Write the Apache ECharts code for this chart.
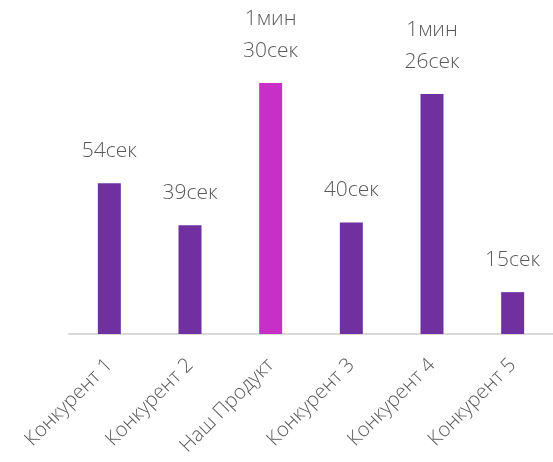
<!DOCTYPE html>
<html>
<head>
<meta charset="utf-8">
<script src="https://cdn.jsdelivr.net/npm/echarts@6/dist/echarts.min.js"></script>
<style>
  html, body { margin: 0; padding: 0; background: #fff; }
  #chart { width: 553px; height: 462px; }
</style>
</head>
<body>
<div id="chart"></div>
<script>
// категории и время (в секундах)
const categories = ['Конкурент 1', 'Конкурент 2', 'Наш Продукт', 'Конкурент 3', 'Конкурент 4', 'Конкурент 5'];
const seconds = [54, 39, 90, 40, 86, 15];
const highlighted = 'Наш Продукт';

const chart = echarts.init(document.getElementById('chart'));

// 90 -> "1мин\n30сек"
const fmtTime = (v) => {
  const m = Math.floor(v / 60);
  const s = v % 60;
  return m > 0 ? m + 'мин\n' + s + 'сек' : s + 'сек';
};

const option = {
  backgroundColor: '#ffffff',
  animation: false,
  textStyle: { fontFamily: 'Open Sans' },
  grid: { left: 69, right: -8, top: 55, bottom: 128 },
  xAxis: {
    type: 'category',
    data: categories,
    axisLine: { lineStyle: { color: '#d9d9d9', width: 2 } },
    axisTick: { show: false },
    axisLabel: {
      interval: 0,
      rotate: 45,
      margin: 28,
      fontSize: 20,
      fontWeight: 300,
      color: '#595959',
      fontFamily: 'Open Sans'
    }
  },
  yAxis: {
    type: 'value',
    min: 0,
    max: 100,
    show: false,
    splitLine: { show: false }
  },
  series: [{
    type: 'bar',
    data: seconds,
    barWidth: 23,
    itemStyle: {
      color: (p) => p.name === highlighted ? '#c72fc7' : '#7030a0'
    },
    label: {
      show: true,
      position: 'top',
      distance: 16,
      formatter: (p) => fmtTime(p.value),
      fontSize: 21,
      fontWeight: 300,
      lineHeight: 32,
      color: '#595959',
      fontFamily: 'Open Sans'
    }
  }]
};

chart.setOption(option);
</script>
</body>
</html>
